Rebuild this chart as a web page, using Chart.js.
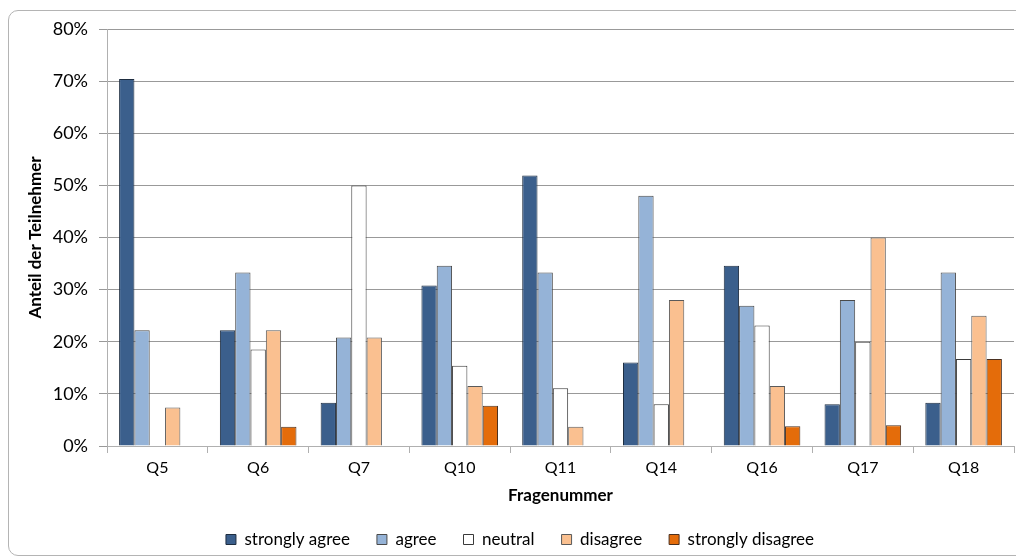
<!DOCTYPE html>
<html>
<head>
<meta charset="utf-8">
<script src="https://cdn.jsdelivr.net/npm/chart.js@4.4.1/dist/chart.umd.min.js"></script>
<style>
  html, body { margin: 0; padding: 0; background: #fff; }
  #wrap { position: relative; width: 1016px; height: 556px; overflow: hidden; }
  #frame {
    position: absolute; left: 8px; top: 10px; width: 1100px; height: 546px;
    border: 1px solid #b4b4b4; border-radius: 10px; box-sizing: border-box;
  }
  #chart { position: absolute; left: 0; top: 0; }
</style>
</head>
<body>
<div id="wrap">
  <div id="frame"></div>
  <canvas id="chart" width="1016" height="556"></canvas>
</div>
<script>
// Antworten je Frage, Anteil in Prozent
const questions = ['Q5', 'Q6', 'Q7', 'Q10', 'Q11', 'Q14', 'Q16', 'Q17', 'Q18'];
const stronglyAgree = [70.4, 22.2, 8.3, 30.8, 51.9, 16, 34.6, 8, 8.3];
const agree = [22.2, 33.3, 20.8, 34.6, 33.3, 48, 26.9, 28, 33.3];
const neutral = [0, 18.5, 50, 15.4, 11.1, 8, 23.1, 20, 16.7];
const disagree = [7.4, 22.2, 20.8, 11.5, 3.7, 28, 11.5, 40, 25];
const stronglyDisagree = [0, 3.7, 0, 7.7, 0, 0, 3.8, 4, 16.7];
const yTicks = [0, 10, 20, 30, 40, 50, 60, 70, 80];

const FONT = 'Lato, "Liberation Sans", sans-serif';

const series = [
  { label: 'strongly agree', data: stronglyAgree, color: '#3b5f8c', border: '#1e2d40' },
  { label: 'agree', data: agree, color: '#95b3d7', border: '#4a4a4a' },
  { label: 'neutral', data: neutral, color: '#ffffff', border: '#3a3a3a' },
  { label: 'disagree', data: disagree, color: '#fac090', border: '#5a5a5a' },
  { label: 'strongly disagree', data: stronglyDisagree, color: '#e46c0a', border: '#4a3020' },
];

// Legende etwas nach rechts und oben schieben
const legendShift = {
  id: 'legendShift',
  afterLayout(chart) {
    const lg = chart.legend;
    lg.left += 13; lg.right += 13;
    lg.top -= 2; lg.bottom -= 2;
  },
};

new Chart(document.getElementById('chart'), {
  type: 'bar',
  data: {
    labels: questions,
    datasets: series.map((s) => ({
      label: s.label,
      data: s.data,
      backgroundColor: s.color,
      borderColor: s.border,
      borderWidth: 1,
      borderSkipped: 'bottom',
      categoryPercentage: 0.76,
      barPercentage: 1.0,
    })),
  },
  plugins: [legendShift],
  options: {
    responsive: false,
    animation: false,
    layout: { padding: { top: 29, right: 2, left: 0, bottom: -4 } },
    plugins: {
      tooltip: { enabled: false },
      legend: {
        position: 'bottom',
        labels: {
          font: { family: FONT, size: 17 },
          color: '#000',
          boxWidth: 10,
          boxHeight: 10,
          padding: 27,
        },
      },
    },
    scales: {
      x: {
        afterFit: (scale) => { scale.height = 60; },
        grid: { drawOnChartArea: false, tickLength: 7, color: '#b0b0b0', offset: true },
        border: { color: '#b0b0b0' },
        ticks: { font: { family: FONT, size: 16 }, color: '#000', padding: 5 },
        title: {
          display: true,
          text: 'Fragenummer',
          font: { family: FONT, size: 17, weight: 'bold' },
          color: '#000',
          padding: { top: 7, bottom: 0 },
        },
      },
      y: {
        min: 0,
        max: 80,
        afterFit: (scale) => { scale.width = 107; },
        afterBuildTicks: (scale) => { scale.ticks = yTicks.map((v) => ({ value: v })); },
        grid: { color: '#999999', tickLength: 8 },
        border: { color: '#b0b0b0' },
        ticks: {
          font: { family: FONT, size: 18 },
          color: '#000',
          padding: 11,
          callback: (v) => v + '%',
        },
        title: {
          display: true,
          text: 'Anteil der Teilnehmer',
          font: { family: FONT, size: 17, weight: 'bold' },
          color: '#000',
          padding: { top: 25, bottom: 0 },
        },
      },
    },
  },
});
</script>
</body>
</html>
